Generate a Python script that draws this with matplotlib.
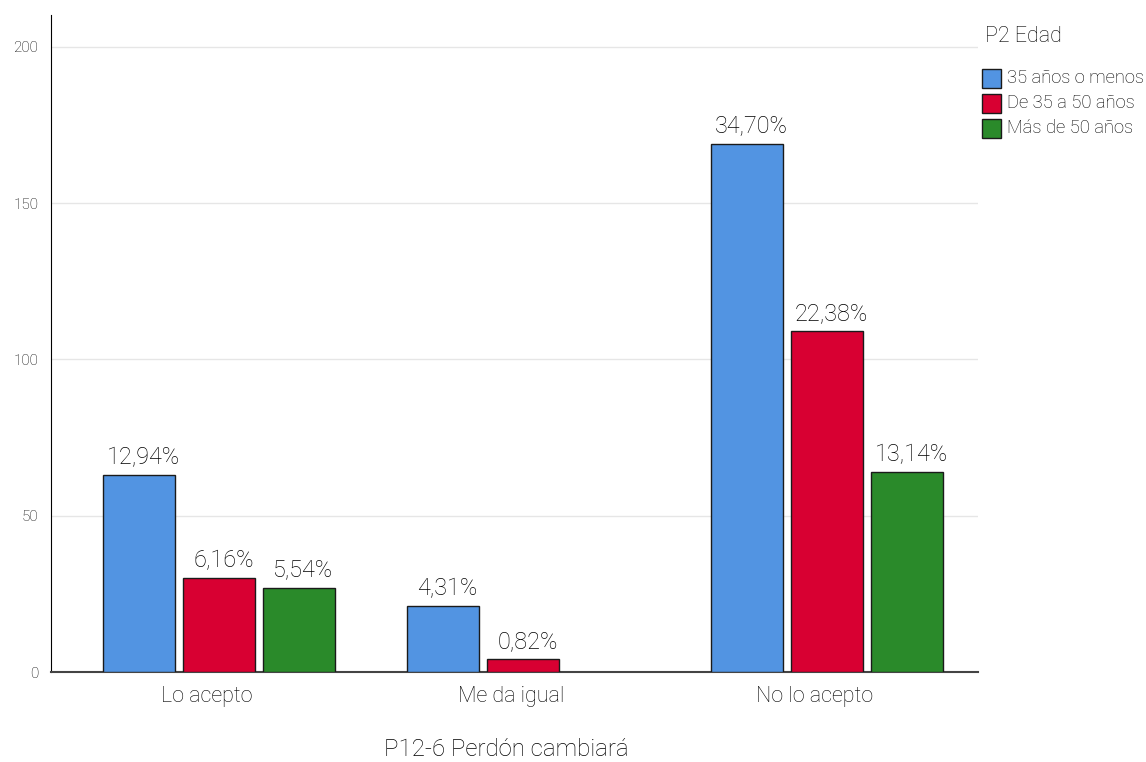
import matplotlib.pyplot as plt
from matplotlib.patches import Rectangle

categories = ['Lo acepto', 'Me da igual', 'No lo acepto']
series = ['35 años o menos', 'De 35 a 50 años', 'Más de 50 años']
counts = [
    [63, 21, 169],
    [30, 4, 109],
    [27, 0, 64],
]
pcts = [
    ['12,94%', '4,31%', '34,70%'],
    ['6,16%', '0,82%', '22,38%'],
    ['5,54%', None, '13,14%'],
]
colors = ['#5294E2', '#D80032', '#2A8A2A']

plt.rcParams['font.family'] = ['Roboto', 'DejaVu Sans']
txt = '#000000'
wt = 'light'

fig = plt.figure(figsize=(11.46, 7.62), dpi=100)
ax = fig.add_axes([51/1146, 90/762, 927/1146, 657/762])

offsets = [-0.21, 0.053, 0.316]
width = 0.237
for s in range(3):
    xs = [i + offsets[s] for i in range(3)]
    for i, x in enumerate(xs):
        if counts[s][i] == 0:
            continue
        ax.bar(x, counts[s][i], width, color=colors[s], edgecolor='#1a1a1a', linewidth=1, zorder=3)
        ax.annotate(pcts[s][i], (x, counts[s][i]), xytext=(3, 4.5), textcoords='offset points',
                    ha='center', va='bottom', fontsize=16.8, color=txt, weight=wt)

ax.set_xlim(-0.5, 2.549)
ax.set_ylim(0, 210.2)
ax.set_xticks([i + 0.013 for i in range(3)])
ax.set_xticklabels(categories, fontsize=15.5, color=txt, weight=wt)
ax.set_yticks([0, 50, 100, 150, 200])
ax.set_yticklabels(['0', '50', '100', '150', '200'], fontsize=11, color=txt, weight=wt)
ax.tick_params(length=0)
ax.tick_params(axis='y', pad=9)
ax.tick_params(axis='x', pad=10)
ax.grid(axis='y', color='#e6e6e6', linewidth=1, zorder=0)
for sp in ['top', 'right']:
    ax.spines[sp].set_visible(False)
ax.spines['left'].set_color('#000000')
ax.spines['bottom'].set_color('#444444')
ax.spines['bottom'].set_linewidth(1.5)

fig.text(506/1146, 1 - 749/762, 'P12-6 Perdón cambiará', ha='center', va='center', fontsize=17.3,
         color=txt, weight=wt)

# legend
fig.text(985/1146, 1 - 37/762, 'P2 Edad', ha='left', va='center', fontsize=15.5, color=txt, weight=wt)
for k, name in enumerate(series):
    yc = 78 + 25 * k
    fig.patches.append(Rectangle((982/1146, 1 - (yc + 9.5)/762), 19/1146, 19/762,
                                 transform=fig.transFigure, facecolor=colors[k],
                                 edgecolor='#1a1a1a', linewidth=1))
    fig.text(1007/1146, 1 - yc/762, name, ha='left', va='center', fontsize=13.2, color=txt, weight=wt)

fig.savefig('out.png', dpi=100)
